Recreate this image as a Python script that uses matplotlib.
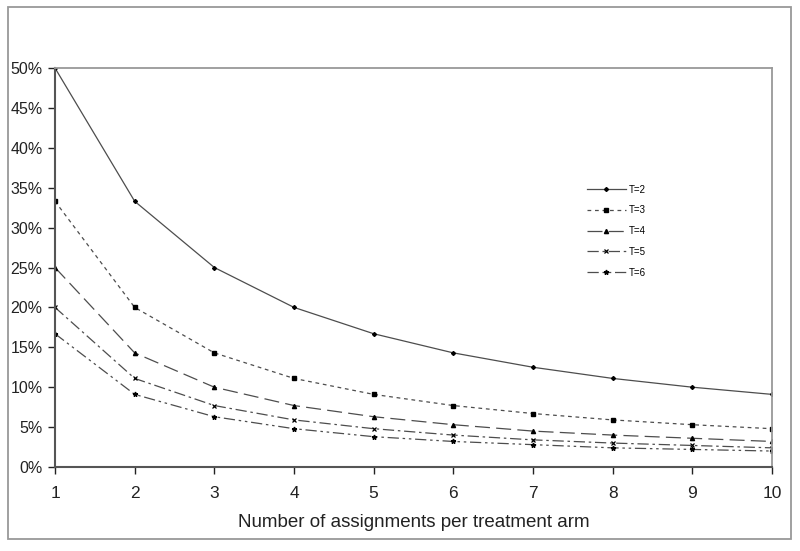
import matplotlib.pyplot as plt
from matplotlib.patches import Rectangle
from matplotlib.ticker import FuncFormatter

# values (percent)
n = [1, 2, 3, 4, 5, 6, 7, 8, 9, 10]
t2 = [50.0, 33.3, 25.0, 20.0, 16.7, 14.3, 12.5, 11.1, 10.0, 9.1]
t3 = [33.3, 20.0, 14.3, 11.1, 9.1, 7.7, 6.7, 5.9, 5.3, 4.8]
t4 = [25.0, 14.3, 10.0, 7.7, 6.3, 5.3, 4.5, 4.0, 3.6, 3.2]
t5 = [20.0, 11.1, 7.7, 5.9, 4.8, 4.0, 3.4, 3.0, 2.7, 2.4]
t6 = [16.7, 9.1, 6.3, 4.8, 3.8, 3.2, 2.8, 2.4, 2.2, 2.0]
labels = ['T=2', 'T=3', 'T=4', 'T=5', 'T=6']

plt.rcParams['font.family'] = ['Liberation Sans', 'DejaVu Sans']

fig = plt.figure(figsize=(8, 5.51), dpi=100)
# outer chart frame
fig.patches.append(Rectangle((8/800, 1-539/551), 783/800, 532/551, transform=fig.transFigure,
                             fill=False, edgecolor='#999999', linewidth=1.3))
ax = fig.add_axes([55/800, 1-467/551, 717/800, 399/551])

lc = '#4d4d4d'
styles = [
    dict(linestyle='-', marker='D', markersize=2),
    dict(linestyle=(0, (3, 3)), marker='s', markersize=3),
    dict(linestyle=(0, (12, 5)), marker='^', markersize=3),
    dict(linestyle=(0, (9, 3, 2, 3)), marker='x', markersize=3, markeredgewidth=0.9),
    dict(linestyle=(0, (9, 3, 2, 3, 2, 3)), marker='*', markersize=3.5),
]
for ys, lab, st in zip([t2, t3, t4, t5, t6], labels, styles):
    ax.plot(n, ys, color=lc, linewidth=0.9, markerfacecolor='black', markeredgecolor='black',
            label=lab, **st)

ax.set_xlim(1, 10)
ax.set_ylim(0, 50)
ax.set_xticks(n)
ax.set_yticks(range(0, 51, 5))
ax.yaxis.set_major_formatter(FuncFormatter(lambda v, p: '%d%%' % v))
ax.tick_params(axis='both', colors='#222222', length=5, direction='out', width=1)
ax.tick_params(axis='x', pad=9, labelsize=12.5)
ax.tick_params(axis='y', pad=4, labelsize=11.5)
for s in ['left', 'bottom']:
    ax.spines[s].set_color('#555555')
    ax.spines[s].set_linewidth(1.5)
for s in ['top', 'right']:
    ax.spines[s].set_color('#999999')
    ax.spines[s].set_linewidth(1.3)
ax.set_xlabel('Number of assignments per treatment arm', fontsize=13.5, color='#222222', labelpad=9)

ax.legend(loc='upper left', bbox_to_anchor=(578/800, 1-176/551), bbox_transform=fig.transFigure,
          frameon=False, fontsize=7, handlelength=4, labelspacing=1.1, handletextpad=0.3)

plt.savefig('out.png', dpi=100)
